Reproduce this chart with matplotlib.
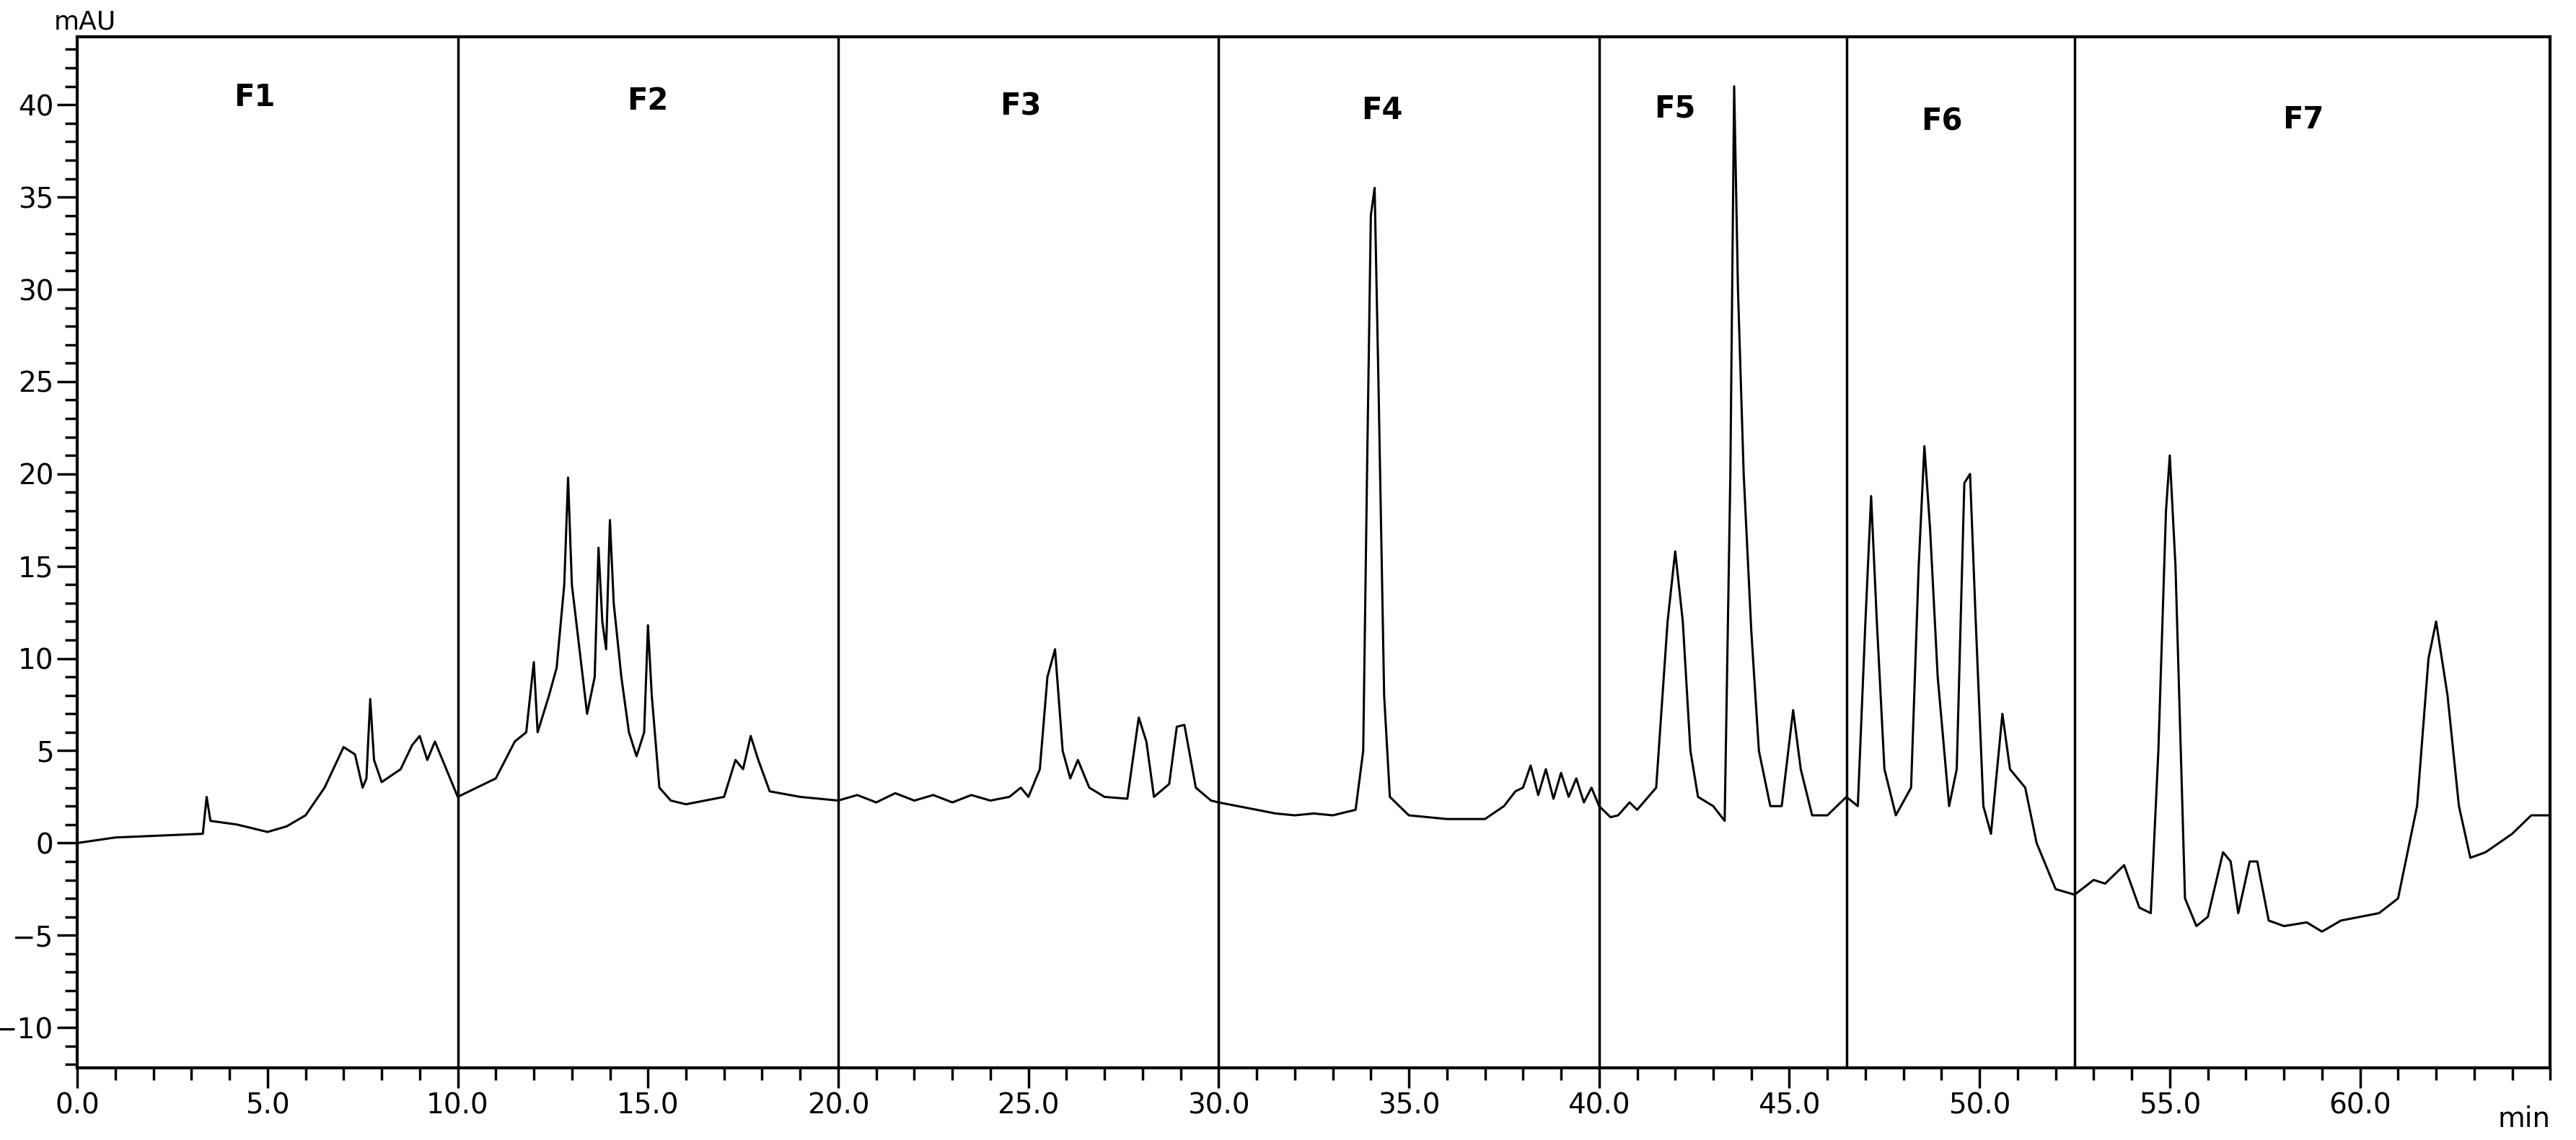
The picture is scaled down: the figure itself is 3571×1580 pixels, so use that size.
import matplotlib
matplotlib.use("Agg")
import matplotlib.pyplot as plt
from matplotlib.ticker import MultipleLocator

time_min = [0, 1, 3.3, 3.4, 3.5, 4.2, 5, 5.5, 6, 6.5, 7, 7.3, 7.5, 7.6, 7.7, 7.8, 8, 8.5, 8.8, 9, 9.2, 9.4, 9.6, 9.8,
            10, 10.5, 11, 11.5, 11.8, 12, 12.1, 12.4, 12.6, 12.8, 12.9, 13, 13.2, 13.4, 13.6, 13.7, 13.8, 13.9, 14, 14.1,
            14.3, 14.5, 14.7, 14.9, 15, 15.1, 15.3, 15.6, 16, 17, 17.3, 17.5, 17.7, 17.9, 18.2, 19,
            20, 20.5, 21, 21.5, 22, 22.5, 23, 23.5, 24, 24.5, 24.8, 25, 25.3, 25.5, 25.7, 25.9, 26.1, 26.3, 26.6, 27,
            27.6, 27.9, 28.1, 28.3, 28.7, 28.9, 29.1, 29.4, 29.8, 30, 30.5, 31, 31.5, 32, 32.5, 33, 33.6, 33.8, 33.9,
            34, 34.1, 34.2, 34.35, 34.5, 35, 36, 37, 37.5, 37.8, 38, 38.2, 38.4, 38.6, 38.8, 39, 39.2, 39.4, 39.6,
            39.8, 40, 40.3, 40.5, 40.8, 41, 41.5, 41.8, 42, 42.2, 42.4, 42.6, 43, 43.3, 43.45, 43.55, 43.65, 43.8, 44,
            44.2, 44.5, 44.8, 45.1, 45.3, 45.6, 46, 46.5, 46.8, 47, 47.15, 47.3, 47.5, 47.8, 48.2, 48.4, 48.55, 48.7,
            48.9, 49.2, 49.4, 49.6, 49.75, 49.9, 50.1, 50.3, 50.6, 50.8, 51, 51.2, 51.5, 52, 52.5, 53, 53.3, 53.8,
            54.2, 54.5, 54.7, 54.9, 55, 55.15, 55.4, 55.7, 56, 56.4, 56.6, 56.8, 57.1, 57.3, 57.6, 58, 58.6, 59,
            59.5, 60.5, 61, 61.5, 61.8, 62, 62.3, 62.6, 62.9, 63.3, 64, 64.5, 65]
signal_mau = [0, 0.3, 0.5, 2.5, 1.2, 1.0, 0.6, 0.9, 1.5, 3.0, 5.2, 4.8, 3.0, 3.5, 7.8, 4.5, 3.3, 4.0, 5.3, 5.8, 4.5, 5.5, 4.5, 3.5,
              2.5, 3.0, 3.5, 5.5, 6.0, 9.8, 6.0, 8.0, 9.5, 14.0, 19.8, 14.0, 10.5, 7.0, 9.0, 16.0, 12.0, 10.5, 17.5, 13.0,
              9.0, 6.0, 4.7, 6.0, 11.8, 8.0, 3.0, 2.3, 2.1, 2.5, 4.5, 4.0, 5.8, 4.5, 2.8, 2.5,
              2.3, 2.6, 2.2, 2.7, 2.3, 2.6, 2.2, 2.6, 2.3, 2.5, 3.0, 2.5, 4.0, 9.0, 10.5, 5.0, 3.5, 4.5, 3.0, 2.5,
              2.4, 6.8, 5.5, 2.5, 3.2, 6.3, 6.4, 3.0, 2.3, 2.2, 2.0, 1.8, 1.6, 1.5, 1.6, 1.5, 1.8, 5.0, 20.0,
              34.0, 35.5, 25.0, 8.0, 2.5, 1.5, 1.3, 1.3, 2.0, 2.8, 3.0, 4.2, 2.6, 4.0, 2.4, 3.8, 2.5, 3.5, 2.2,
              3.0, 2.0, 1.4, 1.5, 2.2, 1.8, 3.0, 12.0, 15.8, 12.0, 5.0, 2.5, 2.0, 1.2, 20.0, 41.0, 30.0, 20.0, 11.5,
              5.0, 2.0, 2.0, 7.2, 4.0, 1.5, 1.5, 2.5, 2.0, 12.0, 18.8, 12.0, 4.0, 1.5, 3.0, 15.0, 21.5, 17.0,
              9.0, 2.0, 4.0, 19.5, 20.0, 12.0, 2.0, 0.5, 7.0, 4.0, 3.5, 3.0, 0.0, -2.5, -2.8, -2.0, -2.2, -1.2,
              -3.5, -3.8, 5.0, 18.0, 21.0, 15.0, -3.0, -4.5, -4.0, -0.5, -1.0, -3.8, -1.0, -1.0, -4.2, -4.5, -4.3, -4.8,
              -4.2, -3.8, -3.0, 2.0, 10.0, 12.0, 8.0, 2.0, -0.8, -0.5, 0.5, 1.5, 1.5]

fraction_bounds = [10, 20, 30, 40, 46.5, 52.5]
fraction_labels = ["F1", "F2", "F3", "F4", "F5", "F6", "F7"]
label_x = [4.65, 15.0, 24.8, 34.3, 42.0, 49.0, 58.5]
label_y = [40.4, 40.2, 39.9, 39.7, 39.8, 39.1, 39.2]

fig = plt.figure(figsize=(35.71, 15.8), dpi=100)
ax = fig.add_axes([0.030, 0.063, 0.960, 0.905])
ax.plot(time_min, signal_mau, color="black", lw=2.2)
for b in fraction_bounds:
    ax.axvline(b, color="black", lw=2.5)
for lx, ly, lab in zip(label_x, label_y, fraction_labels):
    ax.text(lx, ly, lab, fontsize=30, fontweight="bold", ha="center", va="center", family="DejaVu Sans")

ax.set_xlim(0, 65)
ax.set_ylim(-12.2, 43.7)
ax.xaxis.set_minor_locator(MultipleLocator(1))
ax.yaxis.set_minor_locator(MultipleLocator(1))
xt = [i * 5 for i in range(13)]
ax.set_xticks(xt)
ax.set_xticklabels([f"{v:.1f}" for v in xt])
ax.set_yticks(range(-10, 45, 5))
ax.tick_params(which="major", direction="out", length=20, width=2.5, labelsize=28)
ax.tick_params(which="minor", direction="out", length=12, width=2.5)
for s in ax.spines.values():
    s.set_linewidth(3)
ax.text(65, -14.2, "min", fontsize=28, ha="right", va="top")
fig.text(0.021, 0.970, "mAU", fontsize=26, ha="left", va="bottom")
fig.savefig("out.png", dpi=100)
